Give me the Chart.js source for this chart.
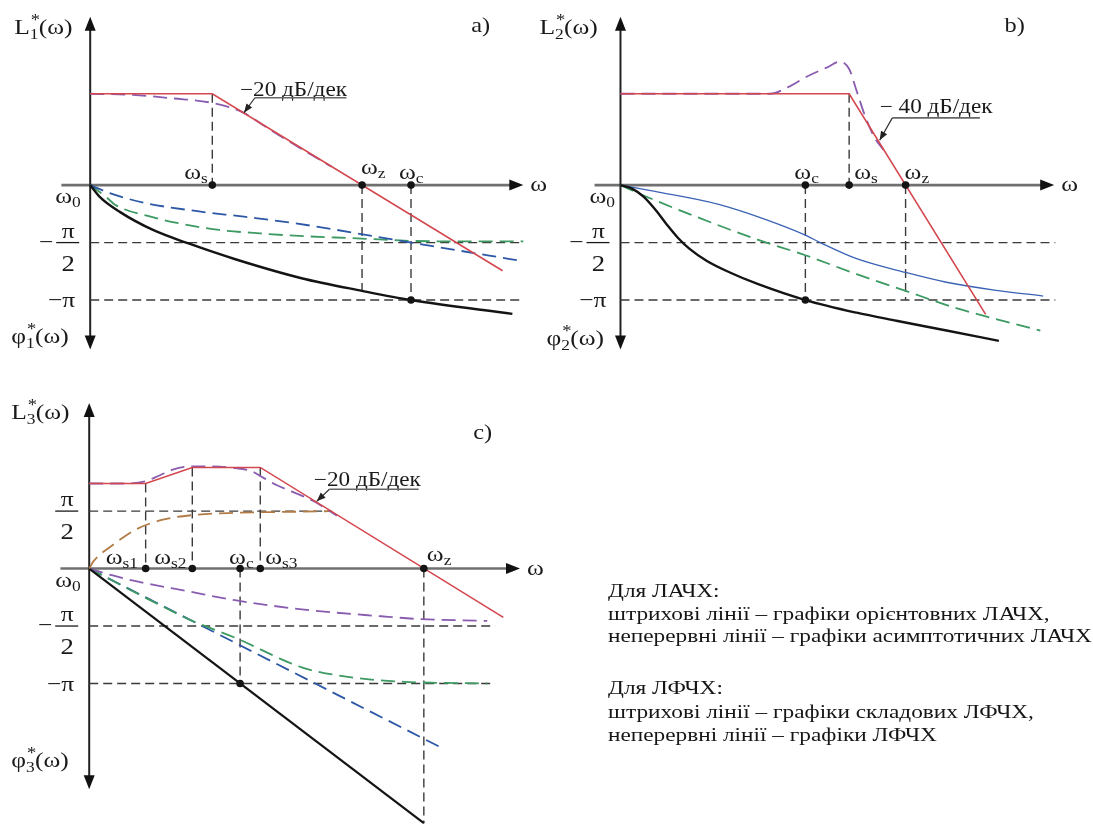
<!DOCTYPE html>
<html>
<head>
<meta charset="utf-8">
<script src="https://cdn.jsdelivr.net/npm/chart.js@4.4.1/dist/chart.umd.min.js"></script>
<style>
  body { margin: 0; background: #fff; }
  #wrap { position: relative; width: 1093px; height: 828px; overflow: hidden; }
  #chart { position: absolute; left: 0; top: 0; }
  #note { position: absolute; left: 608px; top: 0; font-family: "Liberation Serif", "Times New Roman", serif;
          font-size: 18.5px; color: #161616; transform-origin: 0 0; white-space: nowrap; }
  #note div { position: absolute; left: 0; line-height: 23px; }
</style>
</head>
<body>
<div id="wrap">
  <canvas id="chart" width="1093" height="828"></canvas>
  <div id="note">
    <div style="top:580px">Для ЛАЧХ:</div>
    <div style="top:603px">штрихові лінії – графіки орієнтовних ЛАЧХ,</div>
    <div id="longest" style="top:625px">неперервні лінії – графіки асимптотичних ЛАЧХ</div>
    <div style="top:677px">Для ЛФЧХ:</div>
    <div style="top:701px">штрихові лінії – графіки складових ЛФЧХ,</div>
    <div style="top:724px">неперервні лінії – графіки ЛФЧХ</div>
  </div>
</div>
<script>
// units: 1 = pi/2 on the phase axis, same size used for L and for omega

// panel a
const A_RED_X = [0, 2.12, 7.16];
const A_RED_Y = [1.59, 1.59, -1.49];
const A_PURPLE_X = [0, 0.74, 1.43, 2.12, 2.64, 3.16, 3.67, 4.19];
const A_PURPLE_Y = [1.59, 1.57, 1.51, 1.43, 1.27, 0.94, 0.63, 0.32];
const A_BLUE_X = [0, 0.34, 0.95, 1.83, 2.67, 3.53, 5.57, 7.43];
const A_BLUE_Y = [0, -0.14, -0.31, -0.45, -0.55, -0.66, -1.0, -1.31];
const A_GREEN_X = [0, 0.28, 0.43, 1.05, 1.57, 2.24, 2.95, 3.55, 4.71, 5.57, 6.43, 7.52];
const A_GREEN_Y = [0, -0.21, -0.34, -0.55, -0.67, -0.78, -0.84, -0.88, -0.93, -0.97, -0.98, -0.98];
const A_PHASE_X = [0, 0.17, 0.52, 1.09, 1.72, 2.52, 3.67, 4.72, 5.57, 7.33];
const A_PHASE_Y = [0, -0.21, -0.47, -0.78, -1.02, -1.29, -1.62, -1.84, -2.0, -2.24];
const A_FREQ = { s: 2.12, z: 4.72, c: 5.57 };
const A_AXIS_X = [-0.5, 7.52];
const A_AXIS_Y = [-2.86, 2.93];

// panel b
const B_RED_X = [0, 3.97, 6.34];
const B_RED_Y = [1.59, 1.59, -2.25];
const B_PURPLE_X = [0, 1.34, 2.60, 2.90, 3.24, 3.59, 3.81, 3.97, 4.10, 4.24, 4.41, 4.57];
const B_PURPLE_Y = [1.59, 1.59, 1.59, 1.70, 1.89, 2.05, 2.15, 2.02, 1.64, 1.22, 0.83, 0.61];
const B_BLUE_X = [0, 0.66, 1.69, 2.50, 3.19, 3.47, 4.10, 4.95, 5.66, 6.52, 7.34];
const B_BLUE_Y = [0, -0.12, -0.33, -0.59, -0.86, -1.0, -1.28, -1.52, -1.69, -1.83, -1.93];
const B_GREEN_X = [0, 0.40, 1.34, 2.38, 3.21, 4.10, 4.95, 5.83, 7.29];
const B_GREEN_Y = [0, -0.18, -0.56, -0.95, -1.22, -1.55, -1.84, -2.14, -2.53];
const B_PHASE_X = [0, 0.2, 0.4, 0.6, 0.8, 1.0, 1.2, 1.5, 1.9, 2.38, 3.21, 4.10, 4.79, 5.66, 6.57];
const B_PHASE_Y = [0, -0.06, -0.2, -0.42, -0.68, -0.92, -1.11, -1.32, -1.52, -1.72, -2.0, -2.22, -2.36, -2.53, -2.71];
const B_FREQ = { c: 3.21, s: 3.97, z: 4.95 };
const B_AXIS_X = [-0.45, 7.53];
const B_AXIS_Y = [-2.86, 2.93];

// panel c
const C_RED_X = [0, 0.98, 1.79, 2.97, 7.19];
const C_RED_Y = [1.48, 1.48, 1.76, 1.76, -0.85];
const C_PURPLE_X = [0, 0.59, 0.98, 1.22, 1.45, 1.67, 1.97, 2.53, 2.83, 2.97, 3.26, 3.52, 3.90, 4.30];
const C_PURPLE_Y = [1.48, 1.48, 1.52, 1.62, 1.72, 1.77, 1.78, 1.75, 1.69, 1.61, 1.45, 1.34, 1.17, 0.92];
const C_BROWN_X = [0, 0.07, 0.41, 0.81, 1.28, 1.79, 2.53, 3.69, 4.21];
const C_BROWN_Y = [0, 0.12, 0.41, 0.68, 0.85, 0.93, 0.97, 0.99, 1.0];
const C_PPURPLE_X = [0, 0.41, 0.81, 1.74, 2.53, 3.69, 5.07, 5.76, 6.91];
const C_PPURPLE_Y = [0, -0.12, -0.22, -0.40, -0.55, -0.71, -0.83, -0.88, -0.91];
const C_BLUE_X = [0, 6.16];
const C_BLUE_Y = [0, -3.14];
const C_GREEN_X = [0, 1.10, 1.79, 2.62, 3.34, 3.69, 3.91, 4.60, 5.47, 6.91];
const C_GREEN_Y = [0, -0.57, -0.91, -1.24, -1.58, -1.72, -1.78, -1.90, -1.97, -2.0];
const C_PHASE_X = [0, 5.81];
const C_PHASE_Y = [0, -4.43];
const C_FREQ = { s1: 0.98, s2: 1.79, c: 2.62, s3: 2.97, z: 5.81 };
const C_AXIS_X = [-0.5, 7.48];
const C_AXIS_Y = [-3.84, 2.88];

const W = 1093, H = 828, U = 58;
const ORIGIN = { a: [87, 183], b: [621, 183], c: [86, 570] };

const RED = '#d4474f', PURPLE = '#8a5cb0', BLUE = '#2c57a6', GREEN = '#3c9a62';
const BROWN = '#b27b45', BLACK = '#141414', GUIDE = '#3a3a3a', TEXT = '#1a1a1a';
const DASH = [14, 7], GDASH = [9, 5];

function line(p, xs, ys, color, width, dash, smooth) {
  return {
    xAxisID: 'x' + p, yAxisID: 'y' + p,
    data: xs.map((x, i) => ({ x: x, y: ys[i] })),
    showLine: true, borderColor: color, borderWidth: width, borderDash: dash || [],
    pointRadius: 0, pointHoverRadius: 0, fill: false, tension: 0,
    cubicInterpolationMode: smooth ? 'monotone' : 'default'
  };
}
function hline(p, y, x0, x1) { return line(p, [x0, x1], [y, y], GUIDE, 1.4, GDASH); }
function vline(p, x, y0, y1) { return line(p, [x, x], [y0, y1], GUIDE, 1.4, GDASH); }
function dots(p, pts) {
  return {
    xAxisID: 'x' + p, yAxisID: 'y' + p, showLine: false,
    data: pts.map(q => ({ x: q[0], y: q[1] })),
    pointRadius: 3.8, pointBackgroundColor: BLACK, pointBorderWidth: 0, pointHoverRadius: 3.8
  };
}

const datasets = [
  // panel a
  dots('a', [[A_FREQ.s, 0], [A_FREQ.z, 0], [A_FREQ.c, 0], [A_FREQ.c, -2]]),
  line('a', A_RED_X, A_RED_Y, RED, 1.6),
  line('a', A_PURPLE_X, A_PURPLE_Y, PURPLE, 1.8, DASH, true),
  line('a', A_PHASE_X, A_PHASE_Y, BLACK, 2.4, [], true),
  line('a', A_BLUE_X, A_BLUE_Y, BLUE, 1.8, DASH, true),
  line('a', A_GREEN_X, A_GREEN_Y, GREEN, 1.8, DASH, true),
  hline('a', -1, 0, 7.45), hline('a', -2, 0, 7.45),
  vline('a', A_FREQ.s, A_RED_Y[0], 0), vline('a', A_FREQ.z, 0, -1.84), vline('a', A_FREQ.c, 0, -2),
  // panel b
  dots('b', [[B_FREQ.c, 0], [B_FREQ.s, 0], [B_FREQ.z, 0], [B_FREQ.c, -2]]),
  line('b', B_RED_X, B_RED_Y, RED, 1.6),
  line('b', B_PURPLE_X, B_PURPLE_Y, PURPLE, 1.8, DASH, true),
  line('b', B_PHASE_X, B_PHASE_Y, BLACK, 2.4, [], true),
  line('b', B_BLUE_X, B_BLUE_Y, '#3b63b5', 1.3, [], true),
  line('b', B_GREEN_X, B_GREEN_Y, GREEN, 1.8, DASH, true),
  hline('b', -1, 0, 7.55), hline('b', -2, 0, 7.55),
  vline('b', B_FREQ.c, 0, -2), vline('b', B_FREQ.s, B_RED_Y[0], 0), vline('b', B_FREQ.z, 0, -2),
  // panel c
  dots('c', [[C_FREQ.s1, 0], [C_FREQ.s2, 0], [C_FREQ.c, 0], [C_FREQ.s3, 0], [C_FREQ.z, 0], [C_FREQ.c, -2]]),
  line('c', C_RED_X, C_RED_Y, RED, 1.6),
  line('c', C_PURPLE_X, C_PURPLE_Y, PURPLE, 1.8, DASH, true),
  line('c', C_BROWN_X, C_BROWN_Y, BROWN, 1.8, DASH, true),
  line('c', C_PHASE_X, C_PHASE_Y, BLACK, 2.2),
  line('c', C_PPURPLE_X, C_PPURPLE_Y, PURPLE, 1.8, DASH, true),
  line('c', C_GREEN_X, C_GREEN_Y, GREEN, 1.8, DASH, true),
  line('c', C_BLUE_X, C_BLUE_Y, BLUE, 1.8, DASH),
  hline('c', 1, 0, 4.21), hline('c', -1, 0, 7.05), hline('c', -2, 0, 7.05),
  vline('c', C_FREQ.s1, C_RED_Y[0], 0), vline('c', C_FREQ.s2, C_RED_Y[2], 0), vline('c', C_FREQ.s3, C_RED_Y[2], 0),
  vline('c', C_FREQ.c, 0, -2), vline('c', C_FREQ.z, 0, C_PHASE_Y[1])
];

const scales = {};
for (const p in ORIGIN) {
  const ox = ORIGIN[p][0], oy = ORIGIN[p][1];
  scales['x' + p] = { type: 'linear', display: false, min: -ox / U, max: (W - ox) / U };
  scales['y' + p] = { type: 'linear', display: false, min: -(H - oy) / U, max: oy / U };
}

const AXIS = { a: [A_AXIS_X, A_AXIS_Y], b: [B_AXIS_X, B_AXIS_Y], c: [C_AXIS_X, C_AXIS_Y] };

// the lettering of the original is a little wider than plain Times
const SX = 1.16;
function put(ctx, s, x, y, size, align) {
  ctx.save();
  ctx.font = size + 'px "Liberation Serif", "Times New Roman", serif';
  const w = ctx.measureText(s).width * SX;
  const x0 = align === 'right' ? x - w : align === 'center' ? x - w / 2 : x;
  ctx.translate(x0, y);
  ctx.scale(SX, 1);
  ctx.fillStyle = TEXT;
  ctx.textAlign = 'left';
  ctx.textBaseline = 'alphabetic';
  ctx.fillText(s, 0, 0);
  ctx.restore();
  return w;
}
function omega(ctx, sub, x, y) {
  const w = put(ctx, 'ω', x, y, 22);
  if (sub) put(ctx, sub, x + w, y + 4, 15);
}
function func(ctx, letter, n, x, y) {
  const w = put(ctx, letter, x, y, 22);
  put(ctx, n, x + w, y + 5, 15);
  put(ctx, '*', x + w + 1, y - 9, 16);
  put(ctx, '(ω)', x + w + 9, y, 22);
}
function arrowHead(ctx, tx, ty, fx, fy, len, hw, color) {
  const a = Math.atan2(ty - fy, tx - fx);
  ctx.save();
  ctx.fillStyle = color;
  ctx.beginPath();
  ctx.moveTo(tx, ty);
  ctx.lineTo(tx - len * Math.cos(a) + hw * Math.sin(a), ty - len * Math.sin(a) - hw * Math.cos(a));
  ctx.lineTo(tx - len * Math.cos(a) - hw * Math.sin(a), ty - len * Math.sin(a) + hw * Math.cos(a));
  ctx.closePath();
  ctx.fill();
  ctx.restore();
}
function seg(ctx, x0, y0, x1, y1, color, width) {
  ctx.save();
  ctx.strokeStyle = color; ctx.lineWidth = width;
  ctx.beginPath(); ctx.moveTo(x0, y0); ctx.lineTo(x1, y1); ctx.stroke();
  ctx.restore();
}
function fraction(ctx, ox, yBar, minus) {
  if (minus) put(ctx, '−', ox - 44, yBar + 6, 22, 'center');
  put(ctx, 'π', ox - 22, yBar - 5, 22, 'center');
  seg(ctx, ox - 34, yBar, ox - 11, yBar, TEXT, 1.3);
  put(ctx, '2', ox - 22, yBar + 28, 23, 'center');
}
function slopeNote(ctx, xs, ys, text, tx, ty, u0, u1, uy, ax, ay) {
  put(ctx, text, xs.getPixelForValue(tx), ys.getPixelForValue(ty), 20);
  const ux0 = xs.getPixelForValue(u0), ux1 = xs.getPixelForValue(u1), uyy = ys.getPixelForValue(uy);
  seg(ctx, ux0, uyy, ux1, uyy, '#666', 1.6);
  const px = xs.getPixelForValue(ax), py = ys.getPixelForValue(ay);
  seg(ctx, ux0, uyy, px, py, '#333', 1.2);
  arrowHead(ctx, px, py, ux0, uyy, 9, 3.5, '#222');
}

const schematic = {
  id: 'schematic',
  beforeDatasetsDraw(chart) {
    const ctx = chart.ctx;
    for (const p in AXIS) {
      const xs = chart.scales['x' + p], ys = chart.scales['y' + p];
      const ox = xs.getPixelForValue(0), oy = ys.getPixelForValue(0);
      const xl = xs.getPixelForValue(AXIS[p][0][0]), xr = xs.getPixelForValue(AXIS[p][0][1]);
      const yb = ys.getPixelForValue(AXIS[p][1][0]), yt = ys.getPixelForValue(AXIS[p][1][1]);
      seg(ctx, xl, oy, xr - 8, oy, '#707070', 2.6);
      arrowHead(ctx, xr, oy, xl, oy, 14, 5.5, '#111');
      seg(ctx, ox, yt + 8, ox, yb - 8, '#222', 2);
      arrowHead(ctx, ox, yt, ox, oy, 14, 5.5, '#111');
      arrowHead(ctx, ox, yb, ox, oy, 14, 5.5, '#111');
      put(ctx, 'ω', xr + 7, oy + 6, 22);
    }
  },
  afterDatasetsDraw(chart) {
    const ctx = chart.ctx;
    const S = chart.scales;
    const px = (p, v) => S['x' + p].getPixelForValue(v);
    const py = (p, v) => S['y' + p].getPixelForValue(v);

    // panel a
    let ox = px('a', 0), oy = py('a', 0);
    func(ctx, 'L', '1', ox - 76, oy - 151);
    func(ctx, 'φ', '1', ox - 79, oy + 158);
    omega(ctx, '0', ox - 35, oy + 18);
    fraction(ctx, ox, py('a', -1), true);
    put(ctx, '−π', ox - 15, py('a', -2) + 7, 22, 'right');
    put(ctx, 'a)', ox + 381, oy - 153, 21);
    omega(ctx, 's', px('a', A_FREQ.s) - 28, oy - 6);
    omega(ctx, 'z', px('a', A_FREQ.z) - 1, oy - 11);
    omega(ctx, 'c', px('a', A_FREQ.c) - 12, oy - 6);
    slopeNote(ctx, S.xa, S.ya, '−20 дБ/дек', 2.60, 1.55, 2.86, 4.45, 1.52, 2.67, 1.26);

    // panel b
    ox = px('b', 0); oy = py('b', 0);
    func(ctx, 'L', '2', ox - 81, oy - 151);
    func(ctx, 'φ', '2', ox - 74, oy + 160);
    omega(ctx, '0', ox - 31, oy + 18);
    fraction(ctx, ox, py('b', -1), true);
    put(ctx, '−π', ox - 14, py('b', -2) + 7, 22, 'right');
    put(ctx, 'b)', ox + 384, oy - 153, 21);
    omega(ctx, 'c', px('b', B_FREQ.c) - 11, oy - 6);
    omega(ctx, 's', px('b', B_FREQ.s) + 5, oy - 6);
    omega(ctx, 'z', px('b', B_FREQ.z) - 1, oy - 6);
    slopeNote(ctx, S.xb, S.yb, '− 40 дБ/дек', 4.50, 1.26, 4.72, 6.24, 1.17, 4.50, 0.78);

    // panel c
    ox = px('c', 0); oy = py('c', 0);
    func(ctx, 'L', '3', ox - 78, oy - 150);
    func(ctx, 'φ', '3', ox - 78, oy + 198);
    omega(ctx, '0', ox - 34, oy + 18);
    fraction(ctx, ox, py('c', 1), false);
    fraction(ctx, ox, py('c', -1), true);
    put(ctx, '−π', ox - 15, py('c', -2) + 7, 22, 'right');
    put(ctx, 'c)', ox + 384, oy - 130, 21);
    omega(ctx, 's1', px('c', C_FREQ.s1) - 40, oy - 5);
    omega(ctx, 's2', px('c', C_FREQ.s2) - 38, oy - 5);
    omega(ctx, 'c', px('c', C_FREQ.c) - 11, oy - 5);
    omega(ctx, 's3', px('c', C_FREQ.s3) + 5, oy - 5);
    omega(ctx, 'z', px('c', C_FREQ.z) + 3, oy - 8);
    slopeNote(ctx, S.xc, S.yc, '−20 дБ/дек', 3.90, 1.43, 4.17, 5.72, 1.38, 3.95, 1.17);
  }
};

new Chart(document.getElementById('chart'), {
  type: 'scatter',
  data: { datasets: datasets },
  options: {
    responsive: false,
    animation: false,
    layout: { padding: 0 },
    scales: scales,
    plugins: { legend: { display: false }, tooltip: { enabled: false } },
    events: []
  },
  plugins: [schematic]
});

// stretch the note block so its longest line spans like in the original
(function () {
  const m = document.createElement('canvas').getContext('2d');
  m.font = '18.5px "Liberation Serif"';
  const w = m.measureText(document.getElementById('longest').textContent).width;
  document.getElementById('note').style.transform = 'scaleX(' + (484 / w).toFixed(3) + ')';
})();
</script>
</body>
</html>
